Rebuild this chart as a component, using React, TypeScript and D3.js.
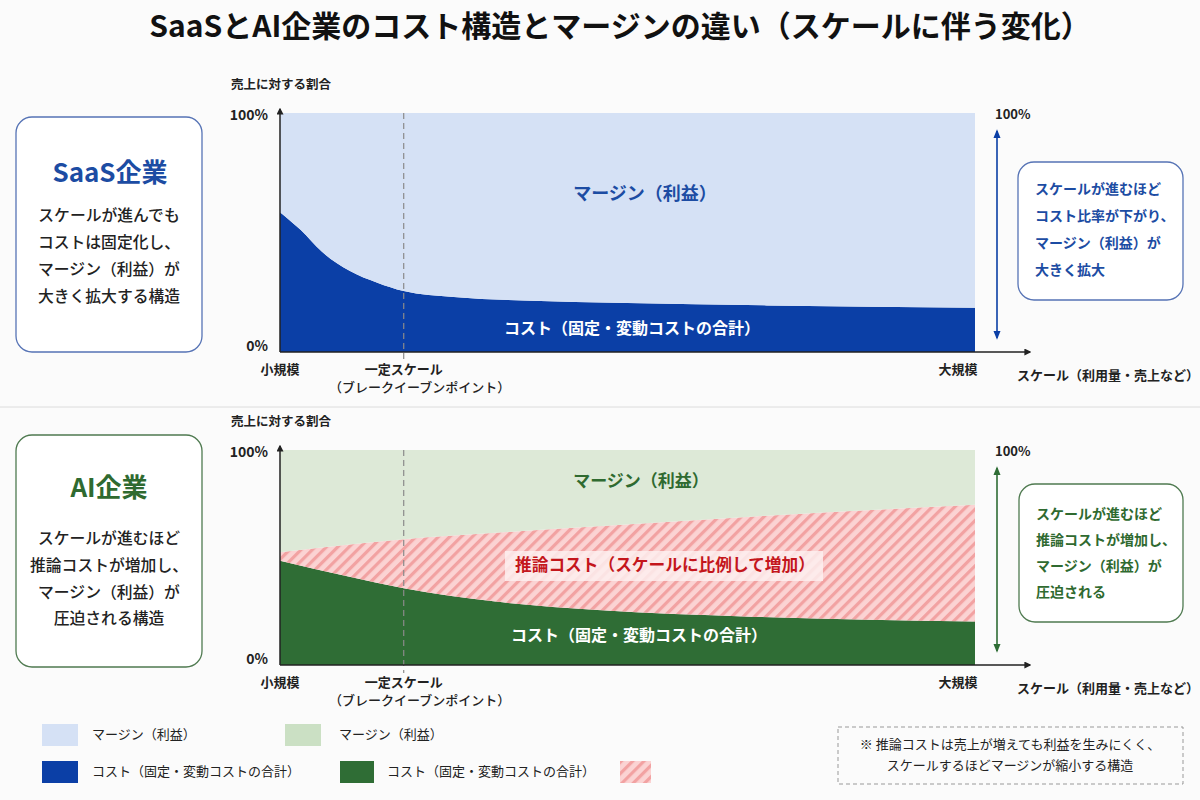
import React from 'react';
import * as d3 from 'd3';

// scale position on the x axis (0 = small, 1 = large)
const saasScale = [0, 0.03, 0.06, 0.1, 0.14, 0.178, 0.25, 0.35, 0.5, 0.7, 1.0];
// cost share of revenue (%)
const saasCost = [58.5, 51, 42, 34, 29, 25.5, 23, 21.5, 20.5, 19.5, 18.5];

const aiScale = [0, 0.1, 0.178, 0.31, 0.457, 0.677, 1.0];
const aiCost = [48.5, 41, 35.7, 29.5, 25.6, 22.5, 20.2];
const aiInference = [4.0, 15, 22.8, 32, 38.9, 46.5, 54.3];

const breakEven = 0.178;

const xTickLabels = ['小規模', '一定スケール', '大規模'];
const legendLabels = ['マージン（利益）', 'コスト（固定・変動コストの合計）'];

const FONT = '"Noto Sans CJK JP", "Noto Sans", sans-serif';

const BLUE = '#0b3fa6';
const BLUE_LIGHT = '#d5e1f5';
const BLUE_TEXT = '#1c4ca3';
const GREEN = '#2f6d35';
const GREEN_LIGHT = '#dde9d7';
const GREEN_TEXT = '#2f6a30';
const RED_TEXT = '#c4161c';
const INK = '#222';

const x = d3.scaleLinear().domain([0, 1]).range([280, 975]);

type PanelProps = {
  top: number;
  bottom: number;
  rows: { s: number; cost: number; inference: number; margin: number }[];
  keys: string[];
  colors: Record<string, string>;
  accent: string;
  markerId: string;
};

function Panel({ top, bottom, rows, keys, colors, accent, markerId }: PanelProps) {
  const y = d3.scaleLinear().domain([0, 100]).range([bottom, top]);
  const series = d3.stack<any>().keys(keys)(rows);
  const area = d3.area<any>()
    .x(d => x(d.data.s))
    .y0(d => y(d[0]))
    .y1(d => y(d[1]))
    .curve(d3.curveMonotoneX);

  return (
    <g>
      {series.map(s => (
        <path key={s.key} d={area(s) || ''} fill={colors[s.key]} />
      ))}
      {/* break-even guide */}
      <line x1={x(breakEven)} x2={x(breakEven)} y1={top} y2={bottom + 8}
        stroke="#8a8a8a" strokeWidth={1.2} strokeDasharray="6,4" />
      {/* axes */}
      <line x1={x(0)} x2={x(0)} y1={bottom} y2={top - 4} stroke={INK} strokeWidth={1.5}
        markerEnd="url(#axisArrow)" />
      <line x1={x(0)} x2={1030} y1={bottom} y2={bottom} stroke={INK} strokeWidth={1.5}
        markerEnd="url(#axisArrow)" />
      <text x={231} y={top - 24} fontSize={12.5} fontWeight={700} fill={INK}>売上に対する割合</text>
      <text x={268} y={top + 3} textAnchor="end" dominantBaseline="middle" fontSize={14} fontWeight={700} fill={INK}>100%</text>
      <text x={268} y={bottom - 5} textAnchor="end" dominantBaseline="middle" fontSize={14} fontWeight={700} fill={INK}>0%</text>

      <text x={x(0)} y={bottom + 18} textAnchor="middle" dominantBaseline="middle" fontSize={13} fontWeight={700} fill={INK}>{xTickLabels[0]}</text>
      <text x={x(breakEven)} y={bottom + 18} textAnchor="middle" dominantBaseline="middle" fontSize={13} fontWeight={700} fill={INK}>{xTickLabels[1]}</text>
      <text x={x(breakEven) + 16} y={bottom + 36} textAnchor="middle" dominantBaseline="middle" fontSize={13} fontWeight={500} fill={INK}>（ブレークイーブンポイント）</text>
      <text x={x(1) - 17} y={bottom + 18} textAnchor="middle" dominantBaseline="middle" fontSize={13} fontWeight={700} fill={INK}>{xTickLabels[2]}</text>
      <text x={1017} y={bottom + 24} dominantBaseline="middle" fontSize={13} fontWeight={700} fill={INK}>スケール（利用量・売上など）</text>

      {/* 0–100% span on the right */}
      <text x={995} y={top + 2} dominantBaseline="middle" fontSize={13} fontWeight={700} fill={INK}>100%</text>
      <line x1={997} x2={997} y1={top + 18} y2={bottom - 14} stroke={accent} strokeWidth={1.6}
        markerStart={`url(#${markerId})`} markerEnd={`url(#${markerId})`} />
    </g>
  );
}

function NoteBox({ x0, y0, w, h, stroke, lines, color, lineGap, firstY, align }:
  { x0: number; y0: number; w: number; h: number; stroke: string; lines: string[]; color: string; lineGap: number; firstY: number; align: 'middle' | 'start' }) {
  const tx = align === 'middle' ? x0 + w / 2 : x0 + 17;
  return (
    <g>
      <rect x={x0} y={y0} width={w} height={h} rx={16} fill="#fff" stroke={stroke} strokeWidth={1.3} />
      {lines.map((l, i) => (
        <text key={i} x={tx} y={firstY + i * lineGap} textAnchor={align} dominantBaseline="middle"
          fontSize={align === 'middle' ? 15.8 : 14} fontWeight={align === 'middle' ? 500 : 700} fill={color}>{l}</text>
      ))}
    </g>
  );
}

export default function App() {
  const saasRows = saasScale.map((s, i) => ({ s, cost: saasCost[i], inference: 0, margin: 100 - saasCost[i] }));
  const aiRows = aiScale.map((s, i) => ({
    s, cost: aiCost[i], inference: aiInference[i], margin: 100 - aiCost[i] - aiInference[i],
  }));

  return (
    <svg width={1200} height={800} style={{ position: 'absolute', left: 0, top: 0, background: '#fbfbfb' }}
      fontFamily={FONT}>
      <defs>
        <marker id="axisArrow" viewBox="0 0 10 10" refX={8} refY={5} markerWidth={7} markerHeight={7}
          orient="auto" markerUnits="userSpaceOnUse">
          <path d="M0,0 L10,5 L0,10 z" fill={INK} />
        </marker>
        <marker id="blueArrow" viewBox="0 0 10 10" refX={8} refY={5} markerWidth={9} markerHeight={9}
          orient="auto-start-reverse" markerUnits="userSpaceOnUse">
          <path d="M0,1 L10,5 L0,9 z" fill={BLUE} />
        </marker>
        <marker id="greenArrow" viewBox="0 0 10 10" refX={8} refY={5} markerWidth={9} markerHeight={9}
          orient="auto-start-reverse" markerUnits="userSpaceOnUse">
          <path d="M0,1 L10,5 L0,9 z" fill={GREEN} />
        </marker>
        <pattern id="hatch" width={8} height={8} patternUnits="userSpaceOnUse" patternTransform="rotate(45)">
          <rect width={8} height={8} fill="#fbd3d3" />
          <rect width={3.2} height={8} fill="#f2a2a2" />
        </pattern>
      </defs>

      <text x={620} y={29} textAnchor="middle" dominantBaseline="middle" fontSize={30} fontWeight={700} fill="#111">
        SaaSとAI企業のコスト構造とマージンの違い（スケールに伴う変化）
      </text>

      {/* SaaS panel */}
      <NoteBox x0={16} y0={117} w={186} h={235} stroke="#5673b5" color={INK} lineGap={27} firstY={217} align="middle"
        lines={['スケールが進んでも', 'コストは固定化し、', 'マージン（利益）が', '大きく拡大する構造']} />
      <text x={110} y={175} textAnchor="middle" dominantBaseline="middle" fontSize={26} fontWeight={700} fill={BLUE_TEXT}>SaaS企業</text>
      <Panel top={113} bottom={352} rows={saasRows} keys={['cost', 'margin']}
        colors={{ cost: BLUE, margin: BLUE_LIGHT }} accent={BLUE} markerId="blueArrow" />
      <text x={645} y={195} textAnchor="middle" dominantBaseline="middle" fontSize={18} fontWeight={700} fill={BLUE_TEXT}>マージン（利益）</text>
      <text x={632} y={330} textAnchor="middle" dominantBaseline="middle" fontSize={16} fontWeight={700} fill="#fff">コスト（固定・変動コストの合計）</text>
      <NoteBox x0={1018} y0={162} w={165} h={138} stroke="#5673b5" color={BLUE_TEXT} lineGap={27} firstY={190} align="start"
        lines={['スケールが進むほど', 'コスト比率が下がり、', 'マージン（利益）が', '大きく拡大']} />

      <line x1={0} x2={1200} y1={407} y2={407} stroke="#dcdcdc" strokeWidth={1} />

      {/* AI panel */}
      <NoteBox x0={16} y0={435} w={186} h={232} stroke="#4f7a50" color={INK} lineGap={26.7} firstY={540} align="middle"
        lines={['スケールが進むほど', '推論コストが増加し、', 'マージン（利益）が', '圧迫される構造']} />
      <text x={109} y={490} textAnchor="middle" dominantBaseline="middle" fontSize={26} fontWeight={700} fill={GREEN_TEXT}>AI企業</text>
      <Panel top={450} bottom={665} rows={aiRows} keys={['cost', 'inference', 'margin']}
        colors={{ cost: GREEN, inference: 'url(#hatch)', margin: GREEN_LIGHT }} accent={GREEN} markerId="greenArrow" />
      <text x={641} y={482} textAnchor="middle" dominantBaseline="middle" fontSize={17} fontWeight={700} fill={GREEN_TEXT}>マージン（利益）</text>
      <rect x={505} y={551} width={318} height={30} fill="#fdeeee" opacity={0.85} />
      <text x={665} y={566} textAnchor="middle" dominantBaseline="middle" fontSize={16.7} fontWeight={700} fill={RED_TEXT}>推論コスト（スケールに比例して増加）</text>
      <text x={639} y={637} textAnchor="middle" dominantBaseline="middle" fontSize={16} fontWeight={700} fill="#fff">コスト（固定・変動コストの合計）</text>
      <NoteBox x0={1019} y0={484} w={164} h={138} stroke="#4f7a50" color={GREEN_TEXT} lineGap={26} firstY={515} align="start"
        lines={['スケールが進むほど', '推論コストが増加し、', 'マージン（利益）が', '圧迫される']} />

      {/* legend */}
      <g fontSize={13} fill={INK}>
        <rect x={42} y={724} width={36} height={22} fill={BLUE_LIGHT} />
        <text x={92} y={735} dominantBaseline="middle">{legendLabels[0]}</text>
        <rect x={42} y={761} width={36} height={22} fill={BLUE} />
        <text x={92} y={772} dominantBaseline="middle">{legendLabels[1]}</text>
        <rect x={285} y={724} width={36} height={22} fill="#cbe0c4" />
        <text x={339} y={735} dominantBaseline="middle">{legendLabels[0]}</text>
        <rect x={340} y={761} width={34} height={22} fill={GREEN} />
        <text x={387} y={772} dominantBaseline="middle">{legendLabels[1]}</text>
        <rect x={620} y={761} width={31} height={22} fill="url(#hatch)" />
      </g>

      {/* footnote */}
      <rect x={838} y={727} width={345} height={57} fill="none" stroke="#999" strokeWidth={1} strokeDasharray="4,3" />
      <text x={1010} y={745} textAnchor="middle" dominantBaseline="middle" fontSize={13} fill={INK}>※ 推論コストは売上が増えても利益を生みにくく、</text>
      <text x={1010} y={766} textAnchor="middle" dominantBaseline="middle" fontSize={13} fill={INK}>スケールするほどマージンが縮小する構造</text>
    </svg>
  );
}
